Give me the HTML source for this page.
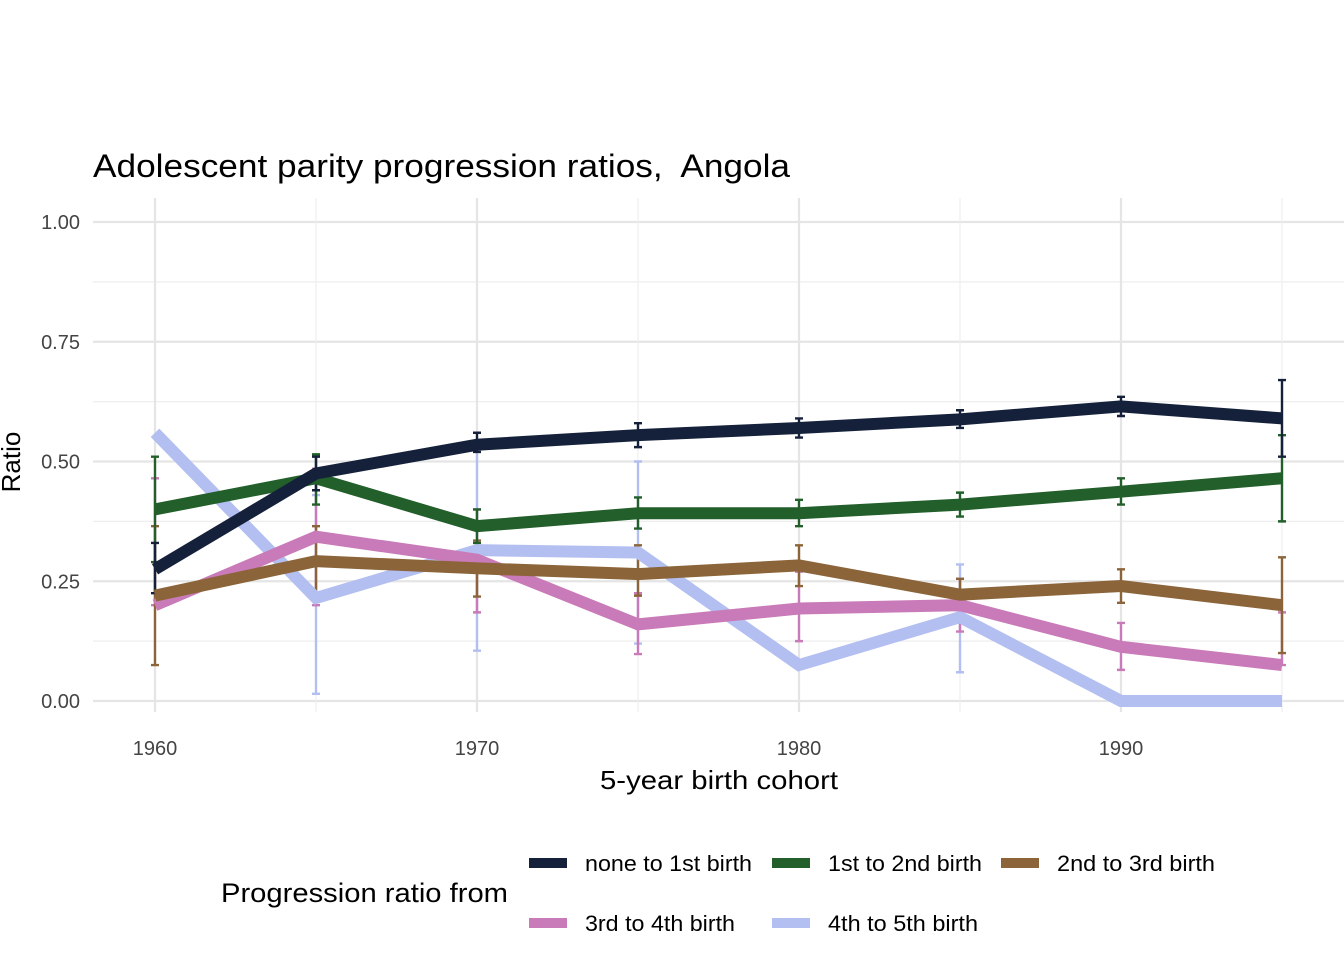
<!DOCTYPE html>
<html><head><meta charset="utf-8"><style>
body{margin:0;background:#fff;font-family:"Liberation Sans",Arial,sans-serif}
</style></head><body>
<svg id="chart" width="1344" height="960" xmlns="http://www.w3.org/2000/svg">
<rect width="1344" height="960" fill="#fff"/>
<text x="93" y="177" font-size="32" fill="#000" textLength="697" lengthAdjust="spacingAndGlyphs">Adolescent parity progression ratios,&#160; Angola</text>
<g id="grid"></g>
<g id="series"></g>
<text x="719" y="789" font-size="26" text-anchor="middle" textLength="238" lengthAdjust="spacingAndGlyphs">5-year birth cohort</text>
<text transform="translate(20,462) rotate(-90)" font-size="26" text-anchor="middle">Ratio</text>
<text x="221" y="902" font-size="27" textLength="287" lengthAdjust="spacingAndGlyphs">Progression ratio from</text>
<g id="legend"></g>
</svg>
<script>
const years=[1960,1965,1970,1975,1980,1985,1990,1995];
const seriesNames=["none to 1st birth","1st to 2nd birth","2nd to 3rd birth","3rd to 4th birth","4th to 5th birth"];
const colors=["#15213a","#225f2a","#8b6439","#c97ab8","#b3bff0"];
const s1=[0.275,0.475,0.535,0.555,0.57,0.588,0.615,0.59];
const s1lo=[0.225,0.44,0.52,0.53,0.55,0.57,0.595,0.51];
const s1hi=[0.33,0.51,0.56,0.58,0.59,0.607,0.635,0.67];
const s2=[0.40,0.465,0.365,0.392,0.392,0.41,0.437,0.465];
const s2lo=[0.29,0.41,0.33,0.36,0.365,0.385,0.41,0.375];
const s2hi=[0.51,0.515,0.40,0.425,0.42,0.435,0.465,0.555];
const s3=[0.22,0.292,0.277,0.265,0.283,0.222,0.24,0.2];
const s3lo=[0.075,0.22,0.218,0.22,0.24,0.19,0.205,0.1];
const s3hi=[0.365,0.365,0.335,0.325,0.325,0.255,0.275,0.3];
const s4=[0.20,0.343,0.295,0.16,0.193,0.2,0.113,0.075];
const s4lo=[0.20,0.2,0.185,0.098,0.125,0.145,0.065,0.075];
const s4hi=[0.465,0.485,0.4,0.225,0.27,0.255,0.163,0.185];
const s5=[0.56,0.215,0.315,0.31,0.075,0.175,0,0];
const s5lo=[0.56,0.015,0.105,0.12,0.075,0.06,0,0];
const s5hi=[0.56,0.43,0.52,0.5,0.075,0.285,0,0];
const yTicks=[0,0.25,0.5,0.75,1.0];
const yTickLabels=["0.00","0.25","0.50","0.75","1.00"];
const xTicks=[1960,1970,1980,1990];
const xMinor=[1965,1975,1985,1995];

const NS="http://www.w3.org/2000/svg";
const X=v=>155+(v-1960)*32.2;
const Y=v=>701-v*479;
function mk(tag,attrs,parent){const e=document.createElementNS(NS,tag);for(const k in attrs)e.setAttribute(k,attrs[k]);parent.appendChild(e);return e;}
const grid=document.getElementById('grid');
const L=93,R=1344,T=198,B=712;
yTicks.forEach((t,i)=>{
  const l=mk('line',{x1:L,x2:R,y1:Y(t),y2:Y(t),stroke:'#e5e5e5','stroke-width':2.2},grid);
  
  
  if(i<yTicks.length-1){const m=mk('line',{x1:L,x2:R,y1:Y(t+0.125),y2:Y(t+0.125),stroke:'#eeeeee','stroke-width':1.2},grid);
  
  }
  const tx=mk('text',{x:80,y:Y(t)+7,'font-size':20,'text-anchor':'end',fill:'#444'},grid);tx.textContent=yTickLabels[i];
  
  
});
xTicks.forEach(t=>{
  const l=mk('line',{x1:X(t),x2:X(t),y1:T,y2:B,stroke:'#e5e5e5','stroke-width':2.2},grid);
  
  
  const tx=mk('text',{x:X(t),y:755,'font-size':20,'text-anchor':'middle',fill:'#444'},grid);tx.textContent=t;
  
  
});
xMinor.forEach(t=>{
  const l=mk('line',{x1:X(t),x2:X(t),y1:T,y2:B,stroke:'#eeeeee','stroke-width':1.2},grid);
  
  
});
const vals=[s1,s2,s3,s4,s5],los=[s1lo,s2lo,s3lo,s4lo,s5lo],his=[s1hi,s2hi,s3hi,s4hi,s5hi];
const sg=document.getElementById('series');
for(let k=vals.length-1;k>=0;k--){
  const g=mk('g',{},sg);
  
  
  years.forEach((yr,i)=>{
    if(his[k][i]-los[k][i]<0.001)return;
    const x=X(yr);
    const e=mk('path',{d:`M${x},${Y(los[k][i])}V${Y(his[k][i])}M${x-4},${Y(los[k][i])}H${x+4}M${x-4},${Y(his[k][i])}H${x+4}`,stroke:colors[k],'stroke-width':2.4,fill:'none'},g);
    
    
  });
}
for(let k=vals.length-1;k>=0;k--){
  const p=mk('polyline',{points:years.map((yr,i)=>X(yr)+','+Y(vals[k][i])).join(' '),fill:'none',stroke:colors[k],'stroke-width':12,'stroke-linejoin':'miter'},sg);
  
  
}
const lg=document.getElementById('legend');
const pos=[[529,863],[772,863],[1001,863],[529,923],[772,923]];
const widths=[167,154,158,150,150];
seriesNames.forEach((n,k)=>{
  const g=mk('g',{},lg);
  
  
  const [x,y]=pos[k];
  mk('line',{x1:x,x2:x+38,y1:y,y2:y,stroke:colors[k],'stroke-width':10},g);
  const t=mk('text',{x:x+56,y:y+8,'font-size':22,textLength:widths[k],lengthAdjust:'spacingAndGlyphs'},g);t.textContent=n;
});
</script>
</body></html>
